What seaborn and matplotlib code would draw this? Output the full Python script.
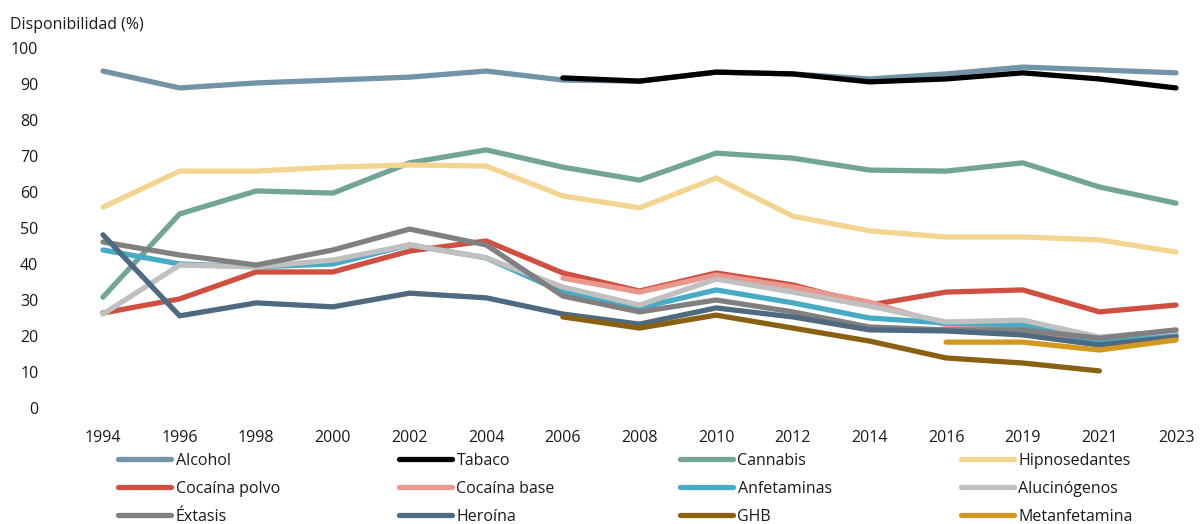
import matplotlib
matplotlib.use("Agg")
import matplotlib.pyplot as plt
import seaborn as sns
import numpy as np
import pandas as pd

years = ["1994", "1996", "1998", "2000", "2002", "2004", "2006", "2008",
         "2010", "2012", "2014", "2016", "2019", "2021", "2023"]
nan = np.nan

alcohol = [93.6, 88.9, 90.3, 91.1, 91.9, 93.6, 91.1, 90.8, 93.3, 92.8, 91.4, 92.8, 94.7, 93.9, 93.1]
tabaco = [nan, nan, nan, nan, nan, nan, 91.7, 90.8, 93.3, 92.8, 90.6, 91.4, 93.1, 91.4, 88.9]
cannabis = [30.8, 53.9, 60.3, 59.7, 68.1, 71.7, 66.9, 63.3, 70.8, 69.4, 66.1, 65.8, 68.1, 61.4, 56.9]
hipnosedantes = [55.8, 65.8, 65.8, 66.9, 67.5, 67.2, 58.9, 55.6, 63.9, 53.3, 49.2, 47.5, 47.5, 46.7, 43.3]
cocaina_polvo = [26.4, 30.3, 37.8, 37.8, 43.6, 46.4, 37.5, 32.5, 37.5, 34.2, 28.6, 32.2, 32.8, 26.7, 28.6]
cocaina_base = [nan, nan, nan, nan, nan, nan, 36.1, 32.2, 36.9, 33.6, 29.4, 23.1, 21.7, 17.5, 19.7]
anfetaminas = [43.9, 40.0, 39.2, 40.0, 45.3, 41.7, 32.2, 27.8, 32.8, 29.2, 25.0, 23.6, 23.1, 18.3, 20.3]
alucinogenos = [26.1, 39.7, 39.2, 41.1, 45.3, 41.7, 33.6, 28.6, 35.8, 32.2, 28.3, 23.9, 24.4, 19.7, 21.4]
extasis = [46.1, 42.5, 39.7, 43.9, 49.7, 45.3, 31.1, 26.7, 30.0, 26.7, 22.5, 21.7, 21.7, 19.4, 21.7]
heroina = [48.1, 25.6, 29.2, 28.1, 31.9, 30.6, 26.1, 23.3, 27.8, 25.3, 21.7, 21.4, 20.3, 17.5, 19.7]
ghb = [nan, nan, nan, nan, nan, nan, 25.3, 22.2, 25.8, 22.2, 18.6, 13.9, 12.5, 10.3, nan]
metanfetamina = [nan, nan, nan, nan, nan, nan, nan, nan, nan, nan, nan, 18.3, 18.3, 16.1, 18.9]

series = {
    "Alcohol": alcohol, "Tabaco": tabaco, "Cannabis": cannabis,
    "Hipnosedantes": hipnosedantes, "Cocaína polvo": cocaina_polvo,
    "Cocaína base": cocaina_base, "Anfetaminas": anfetaminas,
    "Alucinógenos": alucinogenos, "Éxtasis": extasis, "Heroína": heroina,
    "GHB": ghb, "Metanfetamina": metanfetamina,
}
colors = ["#7393a7", "#000000", "#72a497", "#f3d591", "#cf5040", "#e8988c",
          "#48abc6", "#c0c0c0", "#808080", "#4e6a80", "#8a6113", "#d3991e"]
palette = dict(zip(series.keys(), colors))

rows = []
for name, vals in series.items():
    for i, v in enumerate(vals):
        rows.append((i, v, name))
df = pd.DataFrame(rows, columns=["pos", "value", "sustancia"]).dropna()

sns.set_theme(style="white")
plt.rcParams["font.family"] = ["Open Sans", "DejaVu Sans"]

fig = plt.figure(figsize=(12, 5.24), dpi=100)
ax = fig.add_axes([80 / 1200, 1 - 408 / 524, 1119 / 1200, 360 / 524])

sns.lineplot(data=df, x="pos", y="value", hue="sustancia", hue_order=list(series.keys()),
             palette=palette, linewidth=3.8, ax=ax, solid_capstyle="round")

ax.set_xlim(-0.3, 14.3)
ax.set_ylim(0, 100)
ax.set_xticks(range(len(years)))
ax.set_xticklabels(years)
ax.set_yticks(range(0, 101, 10))
ax.set_xlabel("")
ax.set_ylabel("")
ax.tick_params(axis="both", length=0, labelsize=11.5, colors="#1a1a1a")
ax.tick_params(axis="x", pad=16)
ax.tick_params(axis="y", pad=30)
for s in ax.spines.values():
    s.set_visible(False)

fig.text(10 / 1200, 1 - 25 / 524, "Disponibilidad (%)", fontsize=11.5,
         va="center", ha="left", color="#1a1a1a")

# legend: four equally spaced columns, filled row by row
handles, labels = ax.get_legend_handles_labels()
ax.get_legend().remove()
for h in handles:
    h.set_solid_capstyle("round")
for c in range(4):
    idx = [c, c + 4, c + 8]
    leg = fig.legend([handles[i] for i in idx], [labels[i] for i in idx],
                     loc="upper left", bbox_to_anchor=((118 + 281 * c) / 1200, 1 - 453 / 524),
                     frameon=False, fontsize=11.5, handlelength=3.3, handletextpad=0.3,
                     labelspacing=0.75, borderaxespad=0, borderpad=0)
    for t in leg.get_texts():
        t.set_color("#1a1a1a")

fig.savefig("out.png", dpi=100)
